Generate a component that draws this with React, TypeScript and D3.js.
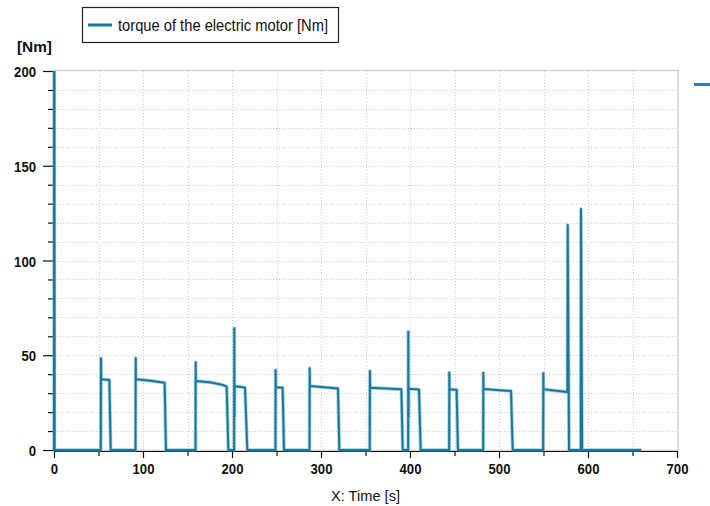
import React, { useEffect, useRef } from 'react';
import * as d3 from 'd3';

// time samples [s] and electric motor torque [Nm]
const timeS = [
  0, 0.15, 0.6,
  52.6, 52.8, 53.0, 62.2, 63.7,
  91.6, 91.8, 92.0, 108, 124.3, 125.8,
  159.0, 159.2, 159.4, 175, 190, 194.0, 195.9,
  202.4, 202.6, 202.8, 203.0, 214.6, 217.2,
  248.8, 249.0, 249.2, 256.9, 258.4,
  287.1, 287.3, 287.5, 319.1, 320.6,
  354.8, 355.0, 355.2, 390.3, 391.8,
  397.9, 398.1, 398.3, 398.5, 410.1, 412.0,
  444.0, 444.2, 444.4, 452.4, 453.9,
  482.2, 482.4, 482.6, 513.5, 515.4,
  549.6, 549.8, 550.0, 576.8, 577.2, 578.7,
  591.9, 592.1, 593.4,
  660,
];
const torqueNm = [
  0, 260, 0,
  0, 48.4, 37.3, 37.0, 0,
  0, 48.5, 37.3, 36.6, 35.5, 0,
  0, 46.3, 36.4, 35.7, 34.3, 33.4, 0,
  0, 64.2, 17.6, 33.6, 33.0, 0,
  0, 42.2, 33.1, 32.9, 0,
  0, 43.1, 33.8, 32.5, 0,
  0, 41.7, 32.9, 32.0, 0,
  0, 62.4, 17.2, 32.3, 31.9, 0,
  0, 40.8, 32.0, 31.8, 0,
  0, 40.8, 32.2, 31.1, 0,
  0, 40.5, 32.0, 30.6, 118.7, 0,
  0, 127.2, 0,
  0,
];

const xTicks = [0, 100, 200, 300, 400, 500, 600, 700];
const xMinorTicks = [50, 150, 250, 350, 450, 550, 650];
const yTicks = [0, 50, 100, 150, 200];
const yMinorTicks = d3.range(0, 201, 10).filter(v => v % 50 !== 0);
const seriesName = 'torque of the electric motor [Nm]';
const yUnit = '[Nm]';
const xTitle = 'X: Time [s]';

const LINE_COLOR = '#17789c';
const FONT = "'Liberation Sans', Arial, sans-serif";

export default function App() {
  const svgRef = useRef<SVGSVGElement>(null);

  useEffect(() => {
    const W = 710;
    const H = 506;
    const svg = d3.select(svgRef.current)
      .attr('width', W)
      .attr('height', H)
      .html('');

    const x = d3.scaleLinear().domain([0, 700]).range([54, 677]);
    const y = d3.scaleLinear().domain([0, 200]).range([450, 71]);

    // grid (dotted)
    const grid = svg.append('g')
      .attr('stroke', '#c9c9c9')
      .attr('stroke-width', 1)
      .attr('stroke-dasharray', '1,2');
    d3.range(50, 700, 50).forEach(v => {
      grid.append('line')
        .attr('x1', Math.round(x(v)) + 0.5).attr('x2', Math.round(x(v)) + 0.5)
        .attr('y1', y(200)).attr('y2', y(0));
    });
    d3.range(10, 200, 10).forEach(v => {
      grid.append('line')
        .attr('x1', x(0)).attr('x2', x(700))
        .attr('y1', Math.round(y(v)) + 0.5).attr('y2', Math.round(y(v)) + 0.5);
    });

    // plot frame
    svg.append('rect')
      .attr('x', x(0) + 0.5)
      .attr('y', y(200) - 0.5)
      .attr('width', x(700) - x(0) + 0.5)
      .attr('height', y(0) - y(200) + 1)
      .attr('fill', 'none')
      .attr('stroke', '#d2d2d2')
      .attr('stroke-width', 1.5);

    // x axis
    const xAxisG = svg.append('g').attr('transform', `translate(0,${y(0) + 1})`);
    xAxisG.append('g')
      .call(d3.axisBottom(x).tickValues(xMinorTicks).tickSize(5).tickSizeOuter(0).tickFormat(() => ''));
    xAxisG.append('g')
      .call(d3.axisBottom(x).tickValues(xTicks).tickSize(7).tickSizeOuter(0).tickPadding(6));
    xAxisG.selectAll('path.domain').attr('stroke', '#111').attr('stroke-width', 1.2);
    xAxisG.selectAll('.tick line').attr('stroke', '#111').attr('stroke-width', 1.2);
    xAxisG.selectAll('.tick text')
      .attr('font-family', FONT)
      .attr('font-size', 15)
      .attr('font-weight', 'bold')
      .attr('fill', '#111')
      .attr('y', 23)
      .attr('dy', 0)
      .attr('textLength', (d: any) => String(d).length * 7.3)
      .attr('lengthAdjust', 'spacingAndGlyphs');

    // y axis
    const yAxisG = svg.append('g').attr('transform', `translate(${x(0)},0)`);
    yAxisG.append('g')
      .call(d3.axisLeft(y).tickValues(yMinorTicks).tickSize(6).tickSizeOuter(0).tickFormat(() => ''));
    yAxisG.append('g')
      .call(d3.axisLeft(y).tickValues(yTicks).tickSize(11).tickSizeOuter(0).tickPadding(7));
    yAxisG.selectAll('path.domain').attr('stroke', '#111').attr('stroke-width', 1.2);
    yAxisG.selectAll('.tick line').attr('stroke', '#111').attr('stroke-width', 1.2);
    yAxisG.selectAll('.tick text')
      .attr('font-family', FONT)
      .attr('font-size', 15)
      .attr('font-weight', 'bold')
      .attr('fill', '#111')
      .attr('dy', '0.38em')
      .attr('x', -18)
      .attr('textLength', (d: any) => String(d).length * 7.3)
      .attr('lengthAdjust', 'spacingAndGlyphs');

    // series
    svg.append('clipPath').attr('id', 'plot-clip')
      .append('rect')
      .attr('x', x(0) - 2).attr('y', y(200))
      .attr('width', x(700) - x(0) + 2).attr('height', y(0) - y(200) + 3);

    const points = timeS.map((t, i) => [t, torqueNm[i]] as [number, number]);
    const line = d3.line<[number, number]>()
      .x(d => x(d[0]))
      .y(d => y(d[1]));

    const series = svg.append('g').attr('clip-path', 'url(#plot-clip)');
    series.append('path')
      .datum(points)
      .attr('fill', 'none')
      .attr('stroke', '#5aa9c6')
      .attr('stroke-opacity', 0.55)
      .attr('stroke-width', 3.6)
      .attr('stroke-linejoin', 'round')
      .attr('d', line);
    series.append('path')
      .datum(points)
      .attr('fill', 'none')
      .attr('stroke', LINE_COLOR)
      .attr('stroke-width', 2)
      .attr('stroke-linejoin', 'round')
      .attr('d', line);

    // axis titles
    svg.append('text')
      .attr('x', 17)
      .attr('y', 52)
      .attr('font-family', FONT)
      .attr('font-size', 15)
      .attr('font-weight', 'bold')
      .attr('fill', '#111')
      .attr('textLength', 35)
      .attr('lengthAdjust', 'spacingAndGlyphs')
      .text(yUnit);

    svg.append('text')
      .attr('x', (x(0) + x(700)) / 2)
      .attr('y', 501)
      .attr('text-anchor', 'middle')
      .attr('font-family', FONT)
      .attr('font-size', 15)
      .attr('fill', '#111')
      .attr('textLength', 69)
      .attr('lengthAdjust', 'spacingAndGlyphs')
      .text(xTitle);

    // legend
    const legend = svg.append('g');
    legend.append('rect')
      .attr('x', 82.5).attr('y', 7.5)
      .attr('width', 256).attr('height', 35)
      .attr('fill', '#fff')
      .attr('stroke', '#222')
      .attr('stroke-width', 1.2);
    legend.append('line')
      .attr('x1', 88).attr('x2', 112)
      .attr('y1', 25).attr('y2', 25)
      .attr('stroke', LINE_COLOR)
      .attr('stroke-width', 3);
    legend.append('text')
      .attr('x', 118)
      .attr('y', 31)
      .attr('font-family', FONT)
      .attr('font-size', 16)
      .attr('fill', '#111')
      .attr('textLength', 210)
      .attr('lengthAdjust', 'spacingAndGlyphs')
      .text(seriesName);

    // cut-off second legend marker on the right edge
    svg.append('line')
      .attr('x1', 694).attr('x2', 712)
      .attr('y1', 84.5).attr('y2', 84.5)
      .attr('stroke', '#1b8bb0')
      .attr('stroke-width', 3);
  }, []);

  return <svg ref={svgRef} style={{ position: 'absolute', left: 0, top: 0, background: '#fff' }}></svg>;
}
